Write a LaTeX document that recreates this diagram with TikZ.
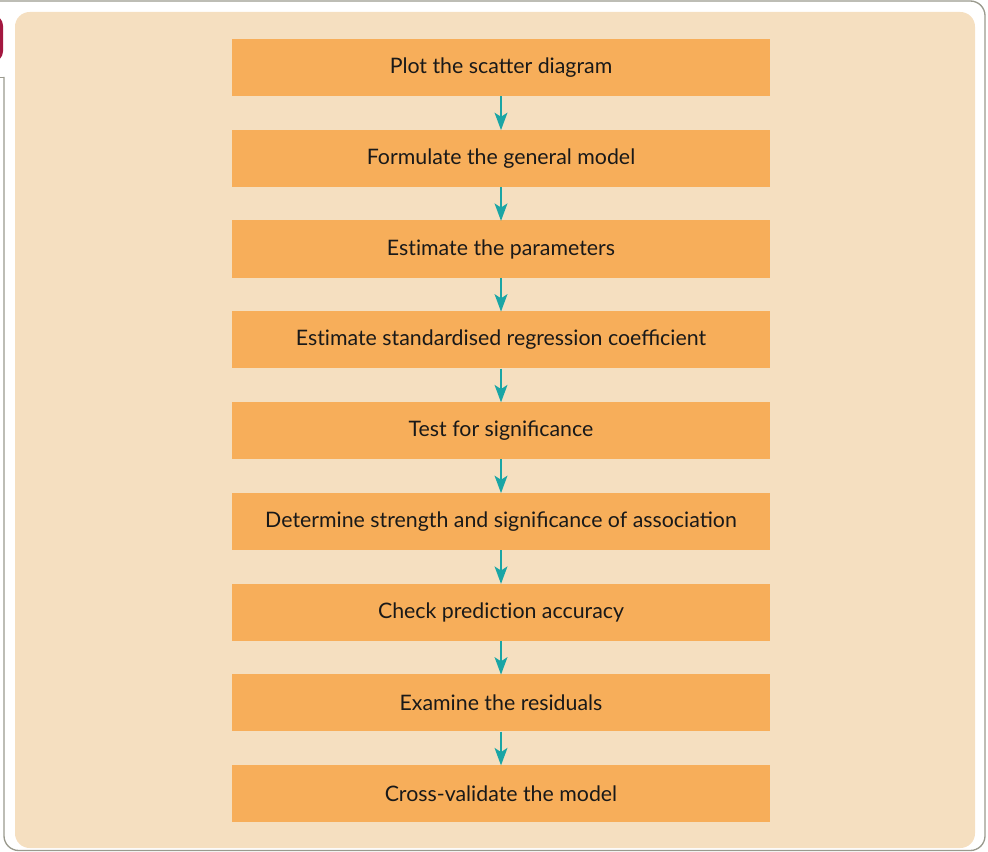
\documentclass[tikz,border=0pt]{standalone}
\usepackage{fontspec}
\setmainfont{Lato}
\usetikzlibrary{arrows.meta}
\definecolor{panel}{HTML}{F5DFC0}
\definecolor{stepfill}{HTML}{F7AE5A}
\definecolor{teal}{HTML}{1AA5A5}
\definecolor{frame}{HTML}{9A9A8E}
\definecolor{crimson}{HTML}{A3173F}
\newcommand{\nolig}{\kern0pt }
\tikzset{
  stepbox/.style={fill=stepfill, minimum width=403.5pt, minimum height=42.75pt, inner sep=0pt, font=\fontsize{16}{19}\selectfont, text=black!90},
  flow/.style={draw=teal, line width=1.9pt, -{Stealth[length=13pt,width=9.5pt,inset=3pt]}, shorten >=-0.5pt}
}
\begin{document}
\begin{tikzpicture}[x=0.75pt,y=-0.75pt]
\useasboundingbox (0,0) rectangle (988,852);
% outer frame
\draw[frame, line width=1pt, rounded corners=11pt] (-5,1) -- (985,1) -- (985,850.5) -- (4,850.5) -- (4,77);
\draw[frame, line width=1pt] (4,77.5) -- (-5,77.5);
\fill[crimson, rounded corners=8pt] (-20,15) rectangle (3,62);
\fill[crimson] (-20,15) rectangle (-5,62);
% panel
\fill[panel, rounded corners=11pt] (15,12) rectangle (975,848);
% steps
\foreach \n/\t [count=\i from 0] in {s1/Plot the scatter diagram, s2/Formulate the general model, s3/Est\nolig imate the parameters, s4/Est\nolig imate standardised regression coefficient, s5/Test for significance, s6/Determine strength and significance of association, s7/Check predict\nolig ion accuracy, s8/Examine the residuals, s9/Cross-validate the model}
  \node[stepbox] (\n) at (501, 67.5+90.75*\i) {\t};
\foreach \a/\b in {s1/s2,s2/s3,s3/s4,s4/s5,s5/s6,s6/s7,s7/s8,s8/s9}
  \draw[flow] (\a.south) -- (\b.north);
\end{tikzpicture}
\end{document}
